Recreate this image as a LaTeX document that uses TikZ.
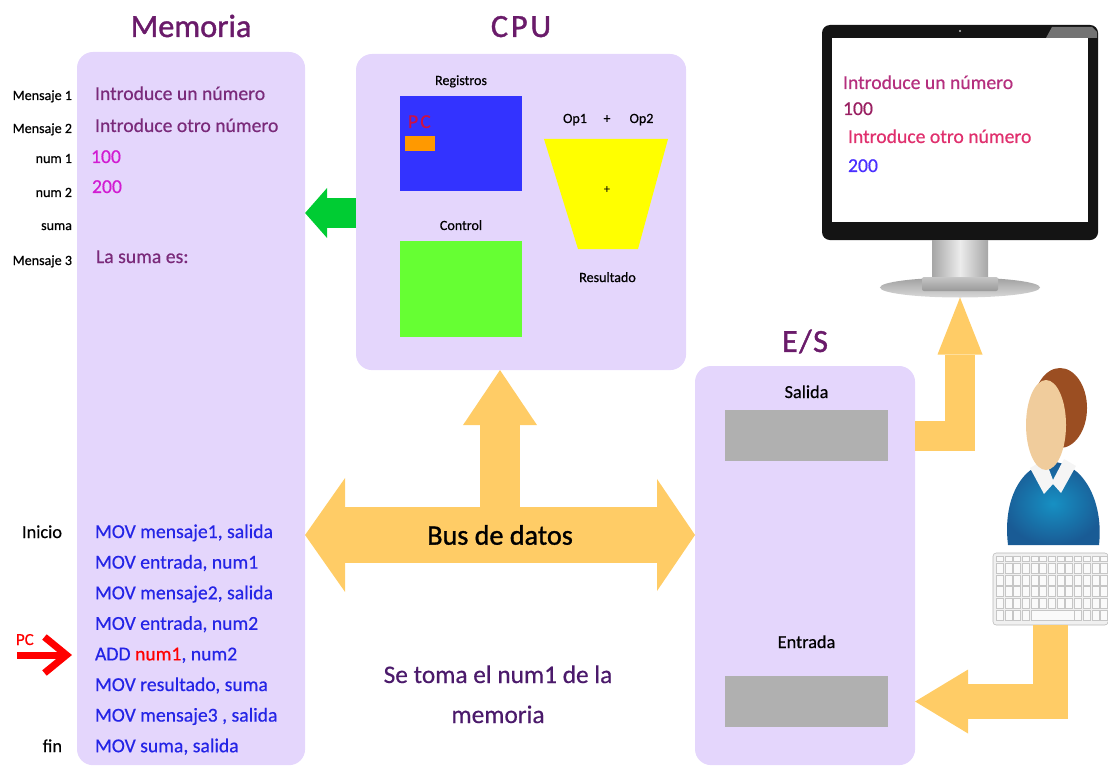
\documentclass[tikz,border=0pt]{standalone}
\usepackage{fontspec}
\setmainfont{Carlito}
\newfontfamily\medfont{Carlito}[FakeBold=0.5]
\newfontfamily\heavyfont{Carlito}[FakeBold=1.2]
\usepackage{xcolor}
\definecolor{colorBox}{HTML}{E4D6FC}
\definecolor{colorTitle}{HTML}{6A1B6A}
\definecolor{colorMem}{HTML}{7A2A7A}
\definecolor{colorNum}{HTML}{D21CD2}
\definecolor{colorCode}{HTML}{2424E6}
\definecolor{colorNote}{HTML}{4B1A6B}
\definecolor{colorBus}{HTML}{FFCC66}
\definecolor{colorMove}{HTML}{00CC33}
\definecolor{colorReg}{HTML}{3333FF}
\definecolor{colorCtrl}{HTML}{66FF33}
\definecolor{colorPC}{HTML}{FF9900}
\definecolor{colorPCText}{HTML}{CC1144}
\definecolor{colorALU}{HTML}{FFFF00}
\definecolor{colorBuffer}{HTML}{B0B0B0}
\definecolor{colorScreenA}{HTML}{B52F7E}
\definecolor{colorScreenB}{HTML}{9A2062}
\definecolor{colorScreenC}{HTML}{E0306E}
\definecolor{colorScreenD}{HTML}{4A30FF}
\definecolor{colorHair}{HTML}{9B4E22}
\definecolor{colorSkin}{HTML}{F0CC9C}
\definecolor{colorShirt}{HTML}{1E6BAF}
\usetikzlibrary{arrows.meta, positioning, shapes.geometric}

\begin{document}
\begin{tikzpicture}[x=0.025cm, y=-0.025cm,
  every node/.style={inner sep=0pt, outer sep=0pt},
  unit/.style={fill=colorBox, rounded corners=0.4cm, anchor=north west},
  part/.style={anchor=north west},
  unittitle/.style={text=colorTitle, font=\heavyfont\fontsize{23}{27}\selectfont},
  tagtext/.style={anchor=base east, font=\medfont\fontsize{10}{12}\selectfont},
  smalltext/.style={anchor=base, font=\medfont\fontsize{10}{12}\selectfont},
  iotext/.style={anchor=base, font=\medfont\fontsize{13}{15}\selectfont},
  memline/.style={anchor=base west, font=\medfont\fontsize{14}{17}\selectfont},
  codeline/.style={memline, text=colorCode},
  busline/.style={draw=colorBus},
  keycap/.style={fill=white!96!gray, draw=gray!45, line width=0.2pt}]

\useasboundingbox (0,0) rectangle (1108,767);

% memoria, cpu y e/s
\node[unit, minimum width=5.7cm, minimum height=17.825cm] (mem) at (77,52) {};
\node[unit, minimum width=8.25cm, minimum height=7.9cm] (cpu) at (356,54) {};
\node[unit, minimum width=5.5cm, minimum height=9.975cm] (es) at (695,366) {};
\node[unittitle, above=0.375cm of mem, anchor=base] (memtitle) {Memoria};
\node[unittitle, above=0.425cm of cpu, anchor=base] (cputitle) {C\kern2pt P\kern2pt U};
\node[unittitle, above=0.35cm of es, anchor=base] (estitle) {E\kern1pt/\kern1pt S};

% datos
\foreach \y/\name [count=\i] in {100/Mensaje 1, 133/Mensaje 2, 163/num 1, 197/num 2, 230/suma, 265/Mensaje 3}
  \node[tagtext] (var\i) at (72,\y) {\name};
\node[memline, text=colorMem] (msg1) at (95,100) {Introduce un número};
\node[memline, text=colorMem] (msg2) at (95,132) {Introduce otro número};
\node[memline, text=colorNum] (num1) at (91,163) {100};
\node[memline, text=colorNum] (num2) at (92,193) {200};
\node[memline, text=colorMem] (msg3) at (96,263) {La suma es:};

% programa
\foreach \txt [count=\i] in {{MOV mensaje1, salida}, {MOV entrada, num1}, {MOV mensaje2, salida}, {MOV entrada, num2}, {ADD \textcolor{red}{num1}, num2}, {MOV resultado, suma}, {MOV mensaje3 , salida}, {MOV suma, salida}}
  \node[codeline] (ins\i) at (95,{538+(\i-1)*30.6}) {\txt};
\node[tagtext, font=\medfont\fontsize{13}{15}\selectfont] (start) at (62,538) {Inicio};
\node[tagtext, font=\medfont\fontsize{13}{15}\selectfont] (stop) at (62,752) {fin};

\coordinate (pctail) at (17,655);
\coordinate (pchead) at (72,655);
\draw[red, line width=0.175cm, -{Straight Barb[width=0.9cm, length=0.55cm]}] (pctail) -- (pchead);
\node[anchor=base west, text=red, font=\medfont\fontsize{12}{14}\selectfont] (pclabel) at (16,645) {PC};

% cpu
\node[part, fill=colorReg, minimum width=3.05cm, minimum height=2.375cm] (regs) at (400,96) {};
\node[part, fill=colorPC, minimum width=0.75cm, minimum height=0.375cm] (pc) at (405,136) {};
\node[anchor=base west, text=colorPCText, font=\medfont\fontsize{14}{16}\selectfont] (pcname) at (408,128) {P\kern1.5pt C};
\node[part, fill=colorCtrl, minimum width=3.05cm, minimum height=2.4cm] (ctrl) at (400,241) {};
\node[smalltext, above=0.275cm of regs, anchor=base] (regstitle) {Registros};
\node[smalltext, above=0.275cm of ctrl, anchor=base] (ctrltitle) {Control};
\fill[colorALU] (544,139) -- (668,139) -- (638,249) -- (578,249) -- cycle;
\node[font=\fontsize{9}{10}\selectfont] (alu) at (607,190) {+};
\node[smalltext] (op1) at (575,123) {Op1};
\node[smalltext] (opplus) at (607,123) {+};
\node[smalltext] (op2) at (641.5,123) {Op2};
\node[smalltext] (result) at (607.5,282) {Resultado};

% e/s
\node[part, fill=colorBuffer, minimum width=4.075cm, minimum height=1.275cm] (outbuf) at (725,410) {};
\node[part, fill=colorBuffer, minimum width=4.075cm, minimum height=1.275cm] (inbuf) at (725,676) {};
\node[iotext, above=0.3cm of outbuf, anchor=base] (outtitle) {Salida};
\node[iotext, above=0.7cm of inbuf, anchor=base] (intitle) {Entrada};

% bus
\coordinate (bus) at (500,535);
\coordinate (mv) at (0,213);
\draw[busline, line width=1cm, -{Triangle[width=1.85cm, length=1.375cm, line width=0pt]}] (bus) -- (bus |- cpu.south);
\draw[busline, line width=1.4cm, {Triangle[width=2.85cm, length=1cm, line width=0pt]}-{Triangle[width=2.8cm, length=0.95cm, line width=0pt]}]
  (mem.east |- bus) -- node[font=\heavyfont\fontsize{20}{24}\selectfont] (bustext) {Bus de datos} (es.west |- bus);
\draw[draw=colorMove, line width=0.725cm, -{Triangle[width=1.25cm, length=0.55cm, line width=0pt]}] (cpu.west |- mv) -- (mem.east |- mv);
\node[anchor=base, text=colorNote, font=\medfont\fontsize{18}{22}\selectfont] (note1) at (498,683) {Se toma el num1 de la};
\node[anchor=base, text=colorNote, font=\medfont\fontsize{18}{22}\selectfont] (note2) at (498,723) {memoria};

% monitor
\node[part, fill=black!92, rounded corners=0.2cm, minimum width=6.9cm, minimum height=5.375cm] (monitor) at (822,25) {};
\fill[black!55] (1052,27) -- (1092,27) -- (1097,32) -- (1097,38) -- (1046,38) -- cycle;
\fill[gray!50] (960,31) circle [radius=1.2];
\node[part, fill=white, minimum width=6.4cm, minimum height=4.6cm] (screen) at (832,38) {};
\shade[left color=gray!70, right color=gray!70, middle color=gray!15] (932,240) rectangle (988,278);
\node[ellipse, top color=gray!75, bottom color=gray!30, minimum width=4cm, minimum height=0.5cm] (stand) at (960,287.5) {};
\shade[top color=gray!45, bottom color=gray!80, rounded corners=0.05cm] (922,277) rectangle (998,291);
\node[memline, text=colorScreenA] (scr1) at (843,89) {Introduce un número};
\node[memline, text=colorScreenB] (scr2) at (843,115) {100};
\node[memline, text=colorScreenC] (scr3) at (848,143) {Introduce otro número};
\node[memline, text=colorScreenD] (scr4) at (848,172) {200};

% usuario y teclado
\shade[inner color=colorShirt!75!cyan, outer color=colorShirt!85!black] (1008,545) .. controls (1002,495) and (1025,463) .. (1052,462) .. controls (1082,462) and (1104,500) .. (1099,545) -- cycle;
\fill[gray!8] (1030,468) -- (1045,459) -- (1053,480) -- (1064,459) -- (1076,466) -- (1061,493) -- (1053,484) -- (1044,494) -- cycle;
\fill[colorHair] (1060,408) ellipse [x radius=27, y radius=40];
\fill[colorSkin] (1046,425) ellipse [x radius=20, y radius=45];
\node[fill=gray!12, draw=gray!55, rounded corners=0.08cm, minimum width=2.875cm, minimum height=1.8cm] (keys) at (1050.5,589) {};
\foreach \c in {0,...,12}
  \filldraw[keycap] ({996+\c*8.7},556) rectangle +(7,5);
\foreach \r in {0,...,3}
  \foreach \c in {0,...,12}
    \filldraw[keycap] ({996+\c*8.7},{563+\r*11.8}) rectangle +(7,10);
\foreach \c in {0,1,2,3,9,10,11,12}
  \filldraw[keycap] ({996+\c*8.7},610) rectangle +(7,10);
\filldraw[keycap] (1030.8,610) rectangle (1074.3,620);

\draw[busline, line width=0.75cm, -{Triangle[width=1.125cm, length=1.425cm, line width=0pt]}] (es.east |- outbuf) -| (stand.south);
\draw[busline, line width=0.875cm, -{Triangle[width=1.6cm, length=1.325cm, line width=0pt]}] (keys.south) |- (es.east |- inbuf);
\end{tikzpicture}
\end{document}
